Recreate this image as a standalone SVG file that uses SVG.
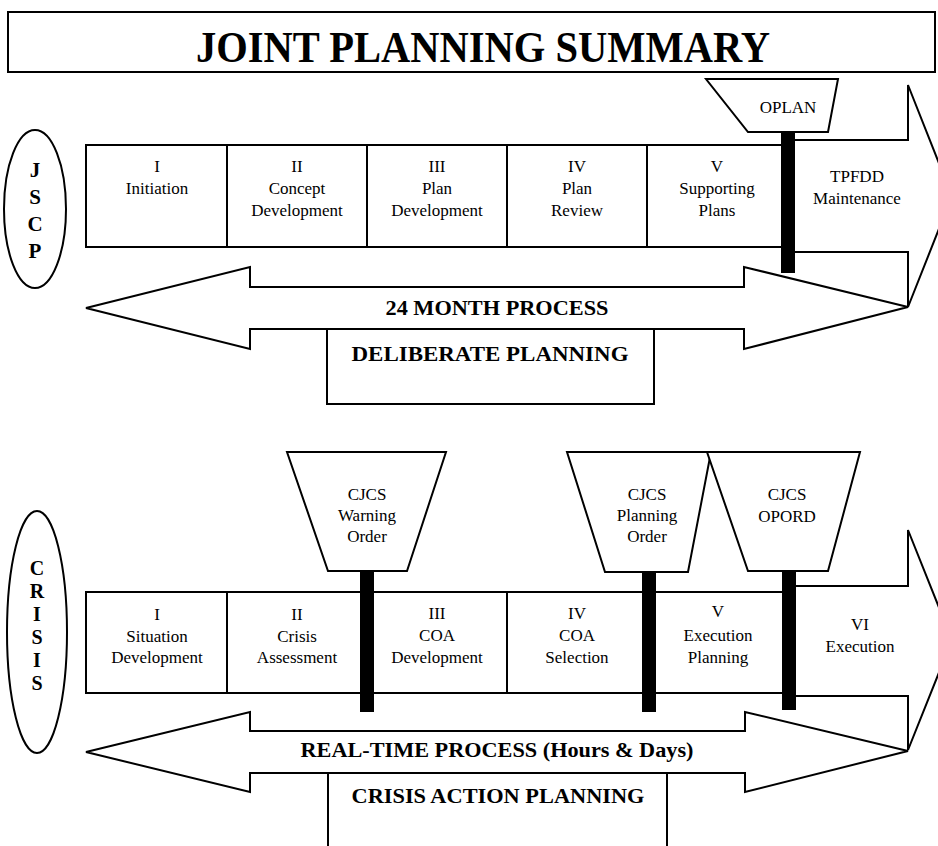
<svg xmlns="http://www.w3.org/2000/svg" width="938" height="846" viewBox="0 0 938 846">
<style>
.ln{fill:#fff;stroke:#000;stroke-width:2;stroke-linejoin:miter}
.t{font-family:"Liberation Serif","Times New Roman",serif;font-size:17px;text-anchor:middle;fill:#000}
.b{font-family:"Liberation Serif","Times New Roman",serif;font-weight:bold;text-anchor:middle;fill:#000}
.bar{fill:#000}
</style>
<rect width="938" height="846" fill="#fff"/>

<g id="title">
<rect class="ln" x="8" y="12" width="927" height="60"/>
<text class="b" x="483" y="62" font-size="44" textLength="574" lengthAdjust="spacingAndGlyphs">JOINT PLANNING SUMMARY</text>
</g>

<!-- JSCP section -->
<g id="jscp-label">
<ellipse class="ln" cx="35" cy="209" rx="31" ry="79"/>
<text class="b" font-size="21"><tspan x="35" y="177">J</tspan><tspan x="35" y="204">S</tspan><tspan x="35" y="231">C</tspan><tspan x="35" y="258">P</tspan></text>
</g>

<g id="deliberate-arrow">
<polygon class="ln" points="86,308 250,267 250,287 744,287 744,267 908,307 744,349 744,329 250,329 250,349"/>
<text class="b" x="497" y="315" font-size="21" textLength="223" lengthAdjust="spacingAndGlyphs">24 MONTH PROCESS</text>
</g>

<g id="deliberate-planning">
<rect class="ln" x="327" y="329" width="327" height="75"/>
<text class="b" x="490" y="361" font-size="22" textLength="277" lengthAdjust="spacingAndGlyphs">DELIBERATE PLANNING</text>
</g>

<g id="tpfdd">
<polygon class="ln" points="788,140 908,140 908,85 952,196 908,307 908,252 788,252"/>
<text class="t"><tspan x="857" y="182">TPFDD</tspan><tspan x="857" y="204">Maintenance</tspan></text>
</g>

<g id="d1">
<rect class="ln" x="86" y="145" width="141" height="102"/>
<text class="t"><tspan x="157" y="172">I</tspan><tspan x="157" y="194">Initiation</tspan></text>
</g>
<g id="d2">
<rect class="ln" x="227" y="145" width="140" height="102"/>
<text class="t"><tspan x="297" y="172">II</tspan><tspan x="297" y="194">Concept</tspan><tspan x="297" y="216">Development</tspan></text>
</g>
<g id="d3">
<rect class="ln" x="367" y="145" width="140" height="102"/>
<text class="t"><tspan x="437" y="172">III</tspan><tspan x="437" y="194">Plan</tspan><tspan x="437" y="216">Development</tspan></text>
</g>
<g id="d4">
<rect class="ln" x="507" y="145" width="140" height="102"/>
<text class="t"><tspan x="577" y="172">IV</tspan><tspan x="577" y="194">Plan</tspan><tspan x="577" y="216">Review</tspan></text>
</g>
<g id="d5">
<rect class="ln" x="647" y="145" width="140" height="102"/>
<text class="t"><tspan x="717" y="172">V</tspan><tspan x="717" y="194">Supporting</tspan><tspan x="717" y="216">Plans</tspan></text>
</g>

<g id="oplan">
<polygon class="ln" points="706,79 838,79 828,132 748,132"/>
<text class="t" x="788" y="113">OPLAN</text>
</g>

<!-- CRISIS section -->
<g id="crisis-label">
<ellipse class="ln" cx="37" cy="632" rx="30" ry="121"/>
<text class="b" font-size="20"><tspan x="37" y="575">C</tspan><tspan x="37" y="598">R</tspan><tspan x="37" y="621">I</tspan><tspan x="37" y="644">S</tspan><tspan x="37" y="667">I</tspan><tspan x="37" y="690">S</tspan></text>
</g>

<g id="realtime-arrow">
<polygon class="ln" points="86,752 250,712 250,731 745,731 745,712 908,751 745,792 745,773 250,773 250,792"/>
<text class="b" x="497" y="757" font-size="22" textLength="393" lengthAdjust="spacingAndGlyphs">REAL-TIME PROCESS (Hours &amp; Days)</text>
</g>

<g id="crisis-action-planning">
<rect class="ln" x="328" y="773" width="339" height="80"/>
<text class="b" x="498" y="803" font-size="22" textLength="293" lengthAdjust="spacingAndGlyphs">CRISIS ACTION PLANNING</text>
</g>

<g id="execution">
<polygon class="ln" points="788,586 908,586 908,530 952,640 908,750 908,696 788,696"/>
<text class="t"><tspan x="860" y="630">VI</tspan><tspan x="860" y="652">Execution</tspan></text>
</g>

<g id="c1">
<rect class="ln" x="86" y="592" width="141" height="101"/>
<text class="t"><tspan x="157" y="620">I</tspan><tspan x="157" y="642">Situation</tspan><tspan x="157" y="663">Development</tspan></text>
</g>
<g id="c2">
<rect class="ln" x="227" y="592" width="140" height="101"/>
<text class="t"><tspan x="297" y="620">II</tspan><tspan x="297" y="642">Crisis</tspan><tspan x="297" y="663">Assessment</tspan></text>
</g>
<g id="c3">
<rect class="ln" x="367" y="592" width="140" height="101"/>
<text class="t"><tspan x="437" y="619">III</tspan><tspan x="437" y="641">COA</tspan><tspan x="437" y="663">Development</tspan></text>
</g>
<g id="c4">
<rect class="ln" x="507" y="592" width="140" height="101"/>
<text class="t"><tspan x="577" y="619">IV</tspan><tspan x="577" y="641">COA</tspan><tspan x="577" y="663">Selection</tspan></text>
</g>
<g id="c5">
<rect class="ln" x="647" y="592" width="140" height="101"/>
<text class="t"><tspan x="718" y="617">V</tspan><tspan x="718" y="641">Execution</tspan><tspan x="718" y="663">Planning</tspan></text>
</g>

<g id="warning-order">
<polygon class="ln" points="287,452 446,452 407,571 328,571"/>
<text class="t"><tspan x="367" y="500">CJCS</tspan><tspan x="367" y="521">Warning</tspan><tspan x="367" y="542">Order</tspan></text>
</g>
<g id="planning-order">
<polygon class="ln" points="567,452 711,452 688,572 605,572"/>
<text class="t"><tspan x="647" y="500">CJCS</tspan><tspan x="647" y="521">Planning</tspan><tspan x="647" y="542">Order</tspan></text>
</g>
<g id="opord">
<polygon class="ln" points="707,452 860,452 828,571 748,571"/>
<text class="t"><tspan x="787" y="500">CJCS</tspan><tspan x="787" y="522">OPORD</tspan></text>
</g>

<g id="connectors">
<rect class="bar" x="781" y="132" width="14" height="141"/>
<rect class="bar" x="360" y="571" width="14" height="141"/>
<rect class="bar" x="642" y="572" width="14" height="140"/>
<rect class="bar" x="782" y="571" width="14" height="139"/>
</g>
</svg>
